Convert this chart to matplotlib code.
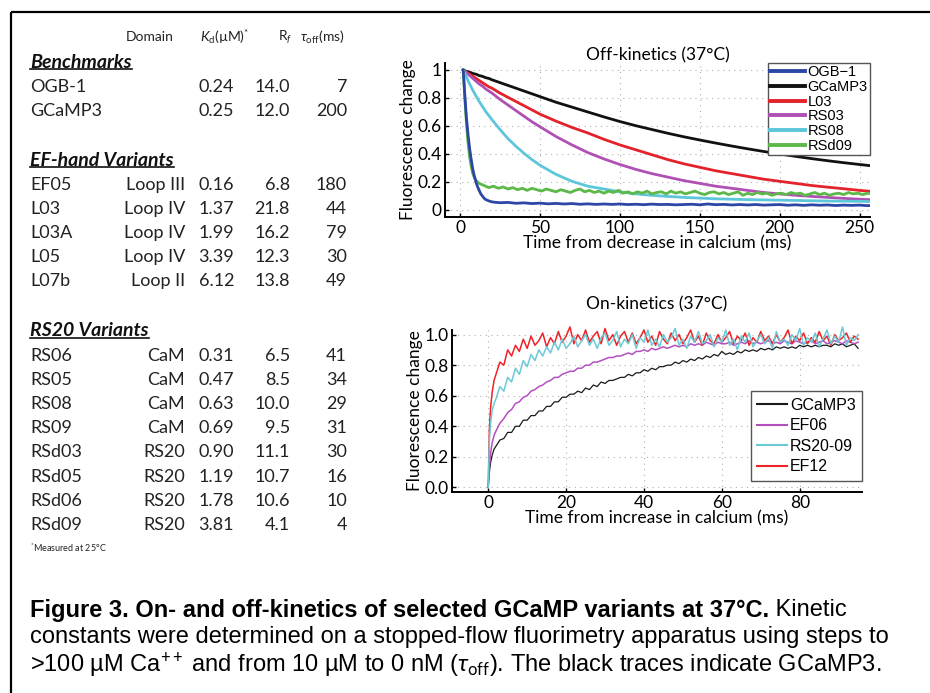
import numpy as np
import matplotlib.pyplot as plt

plt.rcParams['font.family'] = ['Lato', 'DejaVu Sans']
plt.rcParams['mathtext.fontset'] = 'custom'
plt.rcParams['mathtext.rm'] = 'Lato'
plt.rcParams['mathtext.it'] = 'Lato:italic'
plt.rcParams['mathtext.bf'] = 'Lato:bold'

# ---- table data ----
bench_names = ['OGB-1', 'GCaMP3']
bench_kd = [0.24, 0.25]
bench_rf = [14.0, 12.0]
bench_toff = [7, 200]

ef_names = ['EF05', 'L03', 'L03A', 'L05', 'L07b']
ef_domain = ['Loop III', 'Loop IV', 'Loop IV', 'Loop IV', 'Loop II']
ef_kd = [0.16, 1.37, 1.99, 3.39, 6.12]
ef_rf = [6.8, 21.8, 16.2, 12.3, 13.8]
ef_toff = [180, 44, 79, 30, 49]

rs_names = ['RS06', 'RS05', 'RS08', 'RS09', 'RSd03', 'RSd05', 'RSd06', 'RSd09']
rs_domain = ['CaM', 'CaM', 'CaM', 'CaM', 'RS20', 'RS20', 'RS20', 'RS20']
rs_kd = [0.31, 0.47, 0.63, 0.69, 0.90, 1.19, 1.78, 3.81]
rs_rf = [6.5, 8.5, 10.0, 9.5, 11.1, 10.7, 10.6, 4.1]
rs_toff = [41, 34, 29, 31, 30, 16, 10, 4]

# ---- off-kinetics traces ----
t_off = [2, 4, 6, 8, 10, 12, 14, 16, 18, 20, 25, 30, 35, 40, 45, 50, 60, 70, 80, 90,
         100, 110, 120, 130, 140, 150, 160, 170, 180, 190, 200, 210, 220, 230, 240, 250, 258]
gcamp3_off = [1.00, 0.99, 0.985, 0.975, 0.97, 0.96, 0.955, 0.945, 0.94, 0.93, 0.91, 0.89, 0.87,
              0.85, 0.83, 0.81, 0.77, 0.735, 0.70, 0.665, 0.632, 0.602, 0.575, 0.548, 0.523,
              0.50, 0.478, 0.457, 0.437, 0.418, 0.40, 0.383, 0.367, 0.352, 0.338, 0.325, 0.315]
l03_off = [1.00, 0.985, 0.97, 0.955, 0.94, 0.925, 0.91, 0.895, 0.88, 0.87, 0.835, 0.805, 0.775,
           0.745, 0.715, 0.685, 0.635, 0.59, 0.55, 0.505, 0.465, 0.43, 0.395, 0.36, 0.33, 0.305,
           0.28, 0.26, 0.24, 0.22, 0.205, 0.19, 0.175, 0.163, 0.152, 0.14, 0.132]
rs03_off = [1.00, 0.98, 0.96, 0.94, 0.92, 0.90, 0.885, 0.865, 0.85, 0.835, 0.79, 0.75, 0.71,
            0.67, 0.63, 0.595, 0.525, 0.465, 0.41, 0.365, 0.325, 0.29, 0.26, 0.235, 0.21, 0.19,
            0.17, 0.155, 0.14, 0.125, 0.115, 0.105, 0.097, 0.09, 0.083, 0.077, 0.073]
rs08_off = [1.00, 0.95, 0.90, 0.855, 0.815, 0.775, 0.74, 0.705, 0.675, 0.645, 0.575, 0.51, 0.455,
            0.405, 0.36, 0.32, 0.255, 0.205, 0.17, 0.15, 0.13, 0.115, 0.105, 0.097, 0.09,
            0.085, 0.08, 0.077, 0.074, 0.072, 0.07, 0.068, 0.066, 0.064, 0.063, 0.062, 0.06]

t_ogb = [2, 3, 4, 5, 6, 7, 8, 9, 10, 11, 12, 13, 14, 15, 16, 18, 20, 22, 25, 30, 35, 40, 45,
         50, 55, 60, 65, 70, 75, 80, 85, 90, 95, 100, 105, 110, 115, 120, 125, 130, 135, 140,
         145, 150, 155, 160, 165, 170, 175, 180, 185, 190, 195, 200, 205, 210, 215, 220, 225,
         230, 235, 240, 245, 250, 255, 258]
ogb_off = [1.00, 0.82, 0.66, 0.54, 0.44, 0.36, 0.29, 0.24, 0.20, 0.165, 0.14, 0.115, 0.10,
           0.085, 0.075, 0.065, 0.058, 0.055, 0.052, 0.054, 0.048, 0.051, 0.046, 0.049, 0.044,
           0.047, 0.043, 0.046, 0.041, 0.044, 0.040, 0.043, 0.040, 0.043, 0.039, 0.041, 0.038,
           0.042, 0.039, 0.040, 0.037, 0.039, 0.041, 0.037, 0.043, 0.038, 0.040, 0.036, 0.039,
           0.036, 0.039, 0.035, 0.037, 0.039, 0.034, 0.037, 0.033, 0.037, 0.034, 0.036, 0.032,
           0.035, 0.033, 0.035, 0.031, 0.033]

t_rsd09_early = [2, 3, 4, 5, 6, 7, 8, 9, 10, 11, 12, 13, 14]
rsd09_early = [1.00, 0.80, 0.62, 0.48, 0.38, 0.31, 0.26, 0.23, 0.21, 0.20, 0.19, 0.185, 0.18]
rsd09_late = [0.175, 0.16, 0.17, 0.155, 0.165, 0.15, 0.16, 0.145, 0.155, 0.14, 0.155, 0.145,
              0.135, 0.15, 0.14, 0.13, 0.145, 0.135, 0.125, 0.14, 0.15, 0.13, 0.14, 0.125,
              0.135, 0.12, 0.135, 0.125, 0.14, 0.12, 0.13, 0.115, 0.13, 0.12, 0.135, 0.115,
              0.125, 0.13, 0.115, 0.135, 0.12, 0.13, 0.115, 0.125, 0.135, 0.12, 0.11, 0.125,
              0.13, 0.115, 0.125, 0.11, 0.12, 0.13, 0.105, 0.12, 0.11, 0.125, 0.115, 0.12,
              0.105, 0.115, 0.12, 0.11, 0.125, 0.115, 0.12, 0.105, 0.115, 0.125, 0.11, 0.12,
              0.105, 0.115, 0.12, 0.11, 0.125, 0.115, 0.12, 0.11, 0.12, 0.115]
t_rsd09 = t_rsd09_early + [15 + 3 * i for i in range(len(rsd09_late))]
rsd09_off = rsd09_early + rsd09_late

# ---- on-kinetics traces ----
t_on_early = [0, 0.3, 0.6, 1.0, 1.5]
gcamp3_on_early = [0, 0.10, 0.16, 0.21, 0.25]
ef06_on_early = [0, 0.14, 0.22, 0.29, 0.34]
rs2009_on_early = [0, 0.30, 0.42, 0.50, 0.55]
ef12_on_early = [0, 0.38, 0.52, 0.62, 0.70]

gcamp3_on = [.27, .31, .32, .36, .36, .40, .40, .44, .44, .47,
             .47, .50, .50, .53, .53, .56, .56, .59, .59, .61,
             .61, .63, .62, .65, .64, .67, .66, .69, .68, .70,
             .70, .71, .72, .72, .74, .73, .75, .75, .77, .76,
             .78, .77, .79, .79, .80, .80, .82, .81, .83, .82,
             .84, .83, .85, .84, .86, .85, .87, .86, .89, .87,
             .88, .87, .89, .88, .90, .89, .90, .89, .91, .90,
             .91, .90, .92, .91, .92, .91, .92, .91, .93, .92,
             .93, .92, .93, .92, .93, .93, .92, .94, .93, .94,
             .92, .93, .94, .91]
ef06_on = [.37, .42, .45, .49, .51, .55, .56, .59, .60, .63,
           .64, .66, .67, .69, .70, .72, .72, .74, .75, .76,
           .76, .78, .78, .80, .80, .82, .82, .83, .84, .85,
           .85, .86, .86, .87, .88, .87, .89, .89, .90, .89,
           .91, .90, .91, .92, .91, .92, .93, .92, .93, .92,
           .94, .93, .94, .93, .95, .94, .93, .95, .94, .94,
           .95, .93, .94, .95, .94, .96, .94, .95, .94, .95,
           .96, .94, .95, .94, .96, .95, .94, .96, .95, .94,
           .95, .96, .94, .95, .96, .94, .95, .96, .95, .94,
           .96, .95, .94, .95]
rs2009_on = [.58, .66, .63, .72, .69, .78, .74, .83, .79, .87,
             .83, .90, .86, .92, .88, .95, .90, .97, .91, .94,
             .99, .92, .96, 1.00, .93, .97, .91, .98, 1.01, .93,
             .96, 1.02, .92, .97, .94, 1.00, .91, .98, .95, 1.03,
             .93, .97, .92, 1.00, .95, .98, 1.04, .93, .97, .91,
             .99, .95, 1.02, .94, .96, 1.00, .92, .98, .95, 1.03,
             .93, .97, .90, .99, .95, 1.01, .92, .96, 1.00, .94,
             .98, .91, 1.02, .95, .97, .93, 1.00, .96, 1.04, .93,
             .98, .95, 1.01, .92, .97, 1.03, .94, .99, .95, 1.05,
             .93, .98, .96, 1.00]
ef12_on = [.74, .82, .80, .90, .86, .93, .89, .97, .91, .99,
           .93, .96, 1.01, .92, .98, .94, 1.02, .95, .99, 1.05,
           .94, 1.00, .96, 1.03, .95, .99, 1.02, .94, 1.04, .96,
           1.00, .93, .99, 1.02, .95, 1.01, .94, .98, 1.03, .95,
           .99, .93, 1.02, .97, .94, 1.01, .96, 1.00, .94, .98,
           1.03, .95, .99, .93, 1.01, .96, .94, 1.00, .95, .98,
           1.02, .94, .99, .96, 1.01, .93, .98, .95, 1.02, .96,
           .99, .94, 1.00, .95, .98, 1.03, .94, .99, .96, 1.01,
           .94, .98, .95, 1.02, .96, .99, .93, 1.00, .96, .98,
           1.01, .95, .99, .97]
t_on_late = [2 + i for i in range(len(ef12_on))]

W, H = 930, 693
fig = plt.figure(figsize=(W / 100, H / 100), dpi=100)
bg = fig.add_axes([0, 0, 1, 1])
bg.set_xlim(0, W)
bg.set_ylim(H, 0)
bg.axis('off')

# frame (top and left only)
bg.plot([11, W], [12, 12], color='black', lw=1.6, solid_capstyle='butt')
bg.plot([11, 11], [12, H], color='black', lw=1.6, solid_capstyle='butt')

# ---- table ----
tsize = 13
hsize = 10
bg.text(150, 37, 'Domain', size=hsize, ha='center', va='center', color='#222222')
bg.text(225, 37, r'$K_{\rm d}$(µM)$^{*}$', size=hsize, ha='center', va='center', color='#222222')
bg.text(285, 37, r'R$_{f}$', size=hsize, ha='center', va='center', color='#222222')
bg.text(322, 37, r'$\tau_{\rm off}$(ms)', size=hsize, ha='center', va='center', color='#222222')

sections = [
    ('Benchmarks', 62, bench_names, ['', ''], bench_kd, bench_rf, bench_toff),
    ('EF-hand Variants', 160, ef_names, ef_domain, ef_kd, ef_rf, ef_toff),
    ('RS20 Variants', 331, rs_names, rs_domain, rs_kd, rs_rf, rs_toff),
]
headers = []
for title, y0, names, doms, kds, rfs, toffs in sections:
    h = bg.text(30, y0, title, size=14, weight='bold', style='italic',
                ha='left', va='center', color='#111111')
    headers.append(h)
    for i in range(len(names)):
        y = y0 + 25 + 24.1 * i
        bg.text(30, y, names[i], size=tsize, ha='left', va='center', color='#222222')
        bg.text(185, y, doms[i], size=tsize, ha='right', va='center', color='#222222')
        bg.text(234, y, '%.2f' % kds[i], size=tsize, ha='right', va='center', color='#222222')
        bg.text(290, y, '%.1f' % rfs[i], size=tsize, ha='right', va='center', color='#222222')
        bg.text(347, y, '%d' % toffs[i], size=tsize, ha='right', va='center', color='#222222')

bg.text(30, 548, r'$^{*}$Measured at 25°C', size=6.5, ha='left', va='center', color='#222222')

# ---- caption ----
cfont = ['Liberation Sans', 'DejaVu Sans']
csize = 17
c1 = bg.text(30, 610, 'Figure 3. On- and off-kinetics of selected GCaMP variants at 37°C.',
             size=csize, weight='bold', family=cfont, ha='left', va='center')
bg.annotate(' Kinetic', xy=(1, 0), xycoords=c1, size=csize, family=cfont, ha='left', va='bottom')
bg.text(30, 637, 'constants were determined on a stopped-flow fluorimetry apparatus using steps to',
        size=csize, family=cfont, ha='left', va='center')
bg.text(30, 665, r'>100 µM Ca$^{++}$ and from 10 µM to 0 nM ($\tau_{\rm off}$). The black traces indicate GCaMP3.',
        size=csize, family=cfont, ha='left', va='center')

def style_axes(ax):
    for s in ['top', 'right']:
        ax.spines[s].set_visible(False)
    for s in ['left', 'bottom']:
        ax.spines[s].set_linewidth(1.4)
    ax.tick_params(direction='in', length=3, width=1, labelsize=12.5, pad=2.5)
    ax.grid(True, linestyle=(0, (1, 4)), color='#b0b0b0', lw=0.8)
    ax.set_axisbelow(True)

# ---- off kinetics ----
ax1 = fig.add_axes([445 / W, 1 - 217 / H, 425 / W, 154 / H])
style_axes(ax1)
lw1 = 2.0
h_g, = ax1.plot(t_off, gcamp3_off, color='#111111', lw=lw1, label='GCaMP3')
h_r, = ax1.plot(t_off, l03_off, color='#e3222b', lw=lw1, label='L03')
h_m, = ax1.plot(t_off, rs03_off, color='#b050b4', lw=lw1, label='RS03')
h_c, = ax1.plot(t_off, rs08_off, color='#5cc6da', lw=lw1, label='RS08')
h_gr, = ax1.plot(t_rsd09, rsd09_off, color='#5cb849', lw=lw1, label='RSd09')
h_b, = ax1.plot(t_ogb, ogb_off, color='#2c46a6', lw=lw1, label='OGB\u22121', zorder=5)
ax1.set_xlim(-9.4, 256.5)
ax1.set_ylim(-0.05, 1.05)
ax1.set_xticks([0, 50, 100, 150, 200, 250])
ax1.set_yticks([0, 0.2, 0.4, 0.6, 0.8, 1])
ax1.set_yticklabels(['0', '0.2', '0.4', '0.6', '0.8', '1'])
ax1.set_title('Off-kinetics (37°C)', size=12.5, pad=1)
ax1.set_xlabel('Time from decrease in calcium (ms)', size=12.5, labelpad=-1)
ax1.set_ylabel('Fluorescence change', size=12.5, labelpad=1)
leg1 = ax1.legend(handles=[h_b, h_g, h_r, h_m, h_c, h_gr], loc='upper right',
                  bbox_to_anchor=(1.0, 1.0), borderaxespad=0, fancybox=False,
                  edgecolor='#555555', framealpha=1,
                  prop={'family': ['Liberation Sans'], 'size': 10.5},
                  handlelength=2.4, handletextpad=0.2, labelspacing=0.05,
                  borderpad=0.15)
for ln in leg1.get_lines():
    ln.set_linewidth(2.8)

# ---- on kinetics ----
ax2 = fig.add_axes([452 / W, 1 - 492 / H, 410 / W, 162 / H])
style_axes(ax2)
lw2 = 1.1
t_on = t_on_early + t_on_late
k1, = ax2.plot(t_on, gcamp3_on_early + gcamp3_on, color='#1a1a1a', lw=0.9, label='GCaMP3')
k2, = ax2.plot(t_on, ef06_on_early + ef06_on, color='#b44fc0', lw=lw2, label='EF06')
k4, = ax2.plot(t_on, ef12_on_early + ef12_on, color='#ee2228', lw=lw2, label='EF12', clip_on=False)
k3, = ax2.plot(t_on, rs2009_on_early + rs2009_on, color='#6cc9d6', lw=lw2, label='RS20-09', clip_on=False)
ax2.set_xlim(-9.3, 96)
ax2.set_ylim(-0.03, 1.03)
ax2.set_xticks([0, 20, 40, 60, 80])
ax2.set_yticks([0, 0.2, 0.4, 0.6, 0.8, 1.0])
ax2.set_yticklabels(['0.0', '0.2', '0.4', '0.6', '0.8', '1.0'])
ax2.set_title('On-kinetics (37°C)', size=12.5, pad=15)
ax2.set_xlabel('Time from increase in calcium (ms)', size=12.5, labelpad=-1)
ax2.set_ylabel('Fluorescence change', size=12.5, labelpad=1)
leg2 = ax2.legend(handles=[k1, k2, k3, k4], loc='lower right', bbox_to_anchor=(1.0, 0.07),
                  borderaxespad=0, fancybox=False, edgecolor='#555555', framealpha=1,
                  prop={'family': ['Liberation Sans'], 'size': 11.5},
                  handlelength=1.9, handletextpad=0.15, labelspacing=0.35, borderpad=0.4)
for ln in leg2.get_lines():
    ln.set_linewidth(1.5)

# underline the section headings
fig.canvas.draw()
inv = bg.transData.inverted()
for h in headers:
    bb = h.get_window_extent()
    (x0, y0), (x1, y1) = inv.transform([[bb.x0, bb.y0], [bb.x1, bb.y1]])
    bg.plot([x0, x1], [y0 - 1.5, y0 - 1.5], color='#111111', lw=1.2)

fig.savefig('out.png', dpi=100)
